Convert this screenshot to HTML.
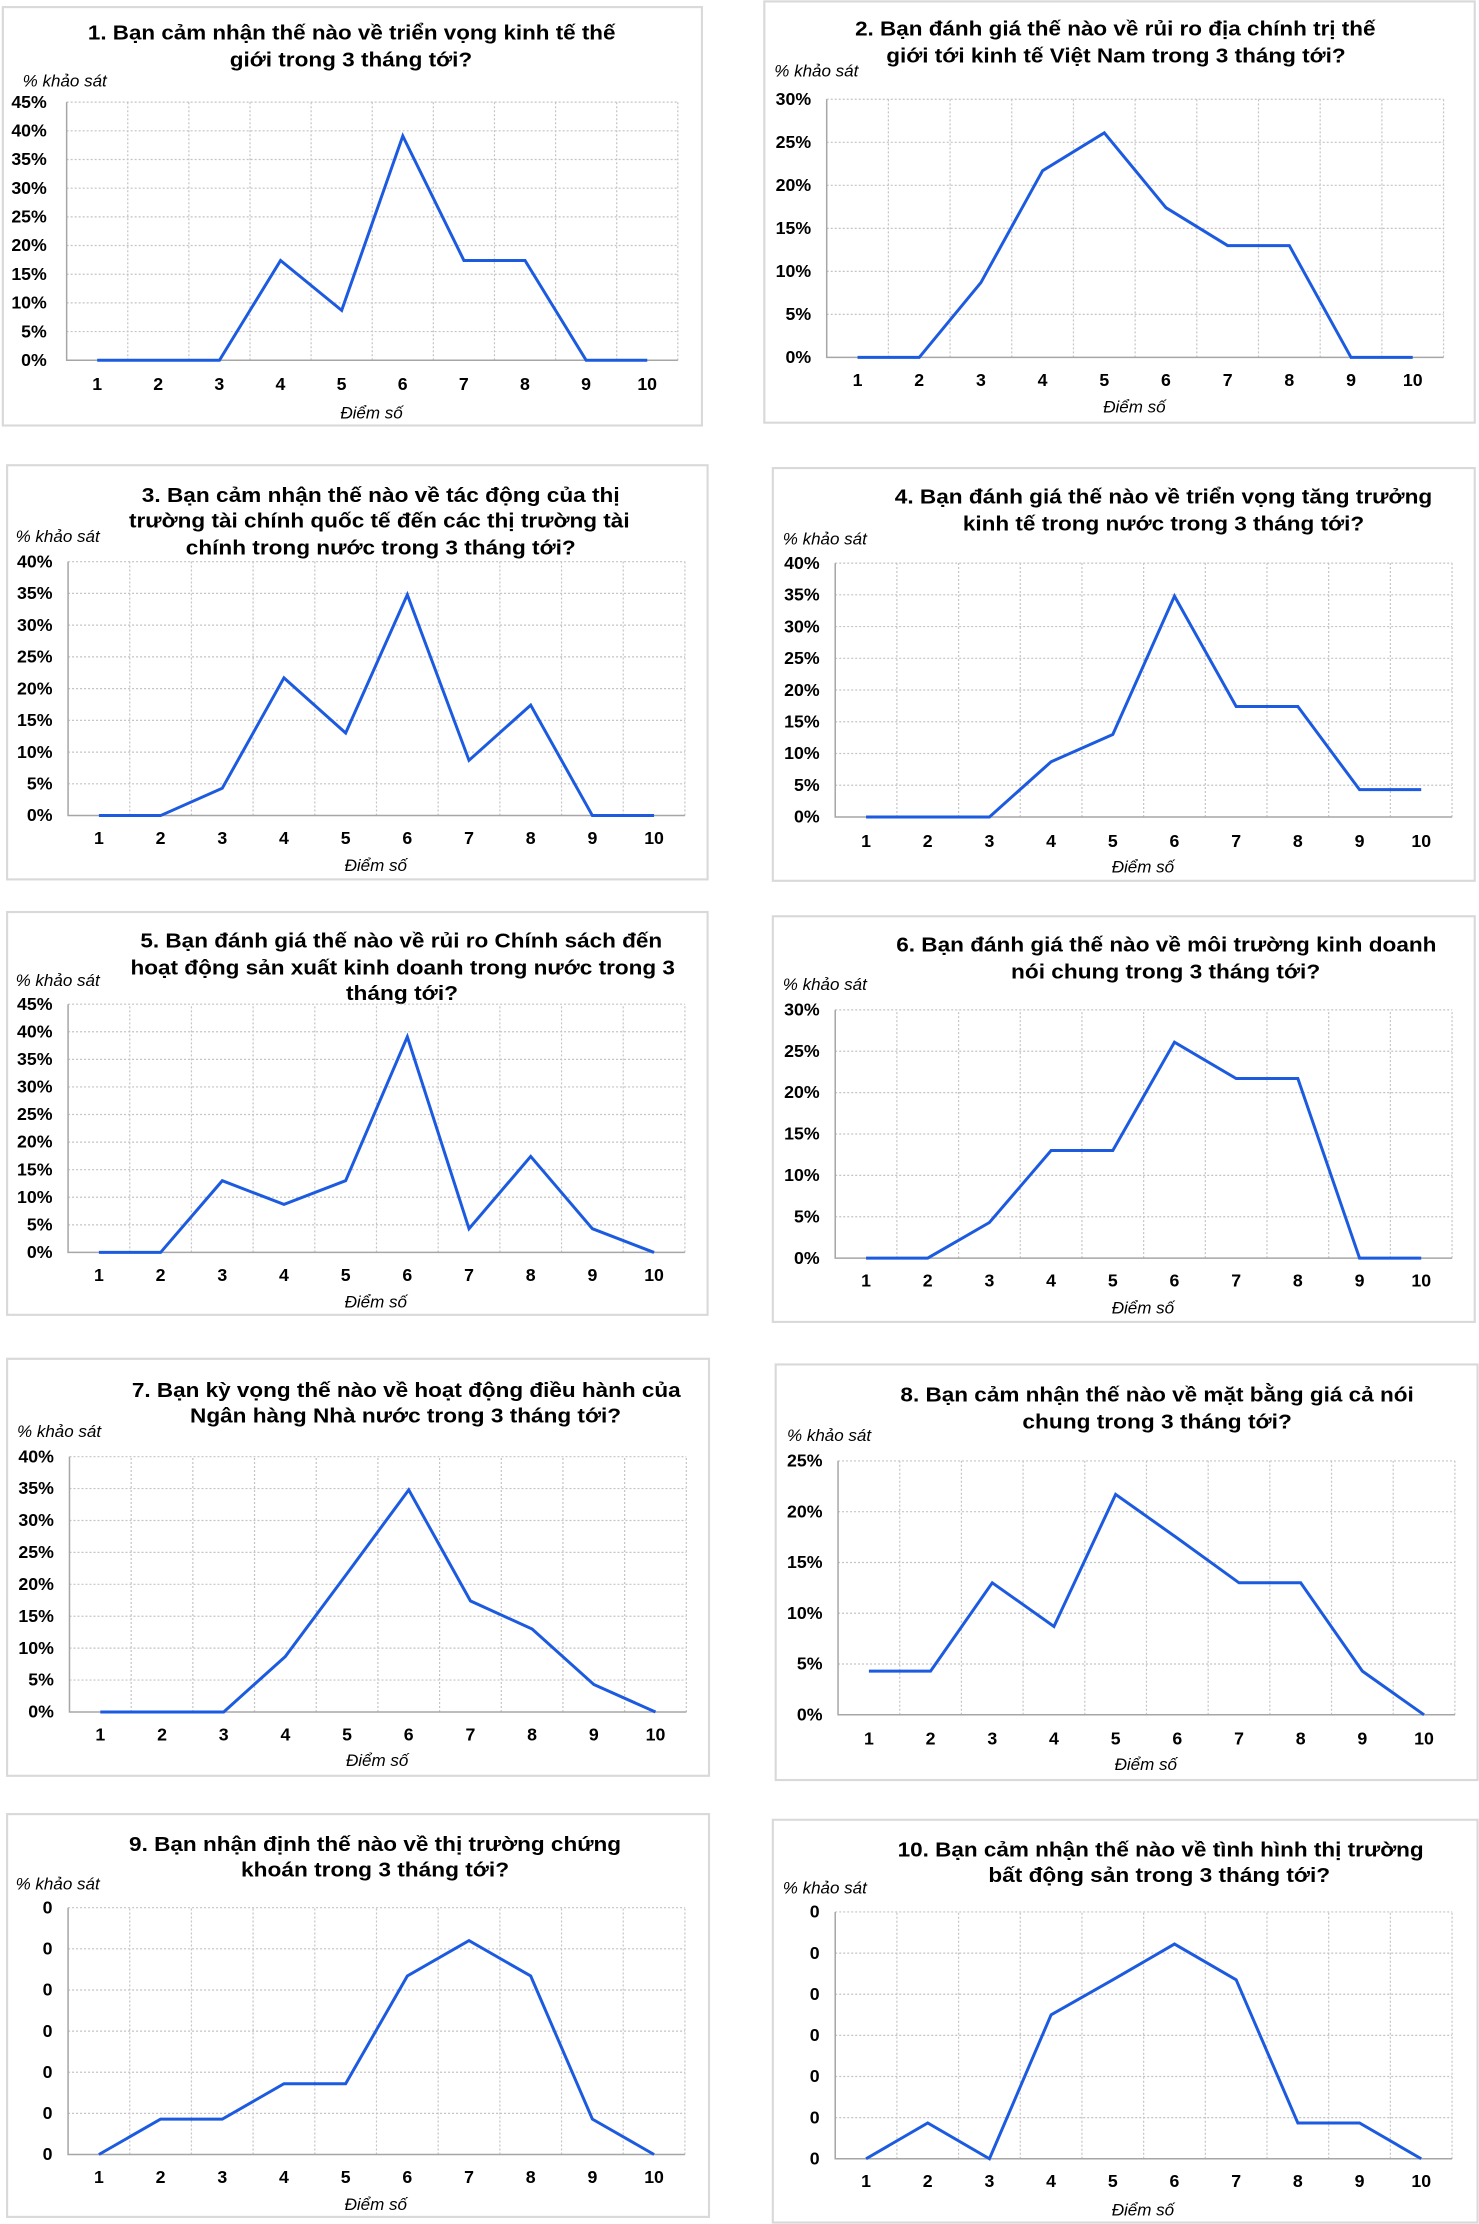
<!DOCTYPE html>
<html><head><meta charset="utf-8"><style>
html,body{margin:0;padding:0;background:#fff}
svg{display:block}
text{font-family:"Liberation Sans Narrow","Liberation Sans","DejaVu Sans Condensed",sans-serif;fill:#000}
.t{font-size:14.5px;font-weight:bold}
.k{font-size:12.5px;font-weight:bold}
.a{font-size:12px;font-style:italic}
.fr{fill:#fff;stroke:#d9d9d9;stroke-width:1.5}
.g{fill:none;stroke:#c4c4c4;stroke-width:1.2;stroke-dasharray:2 2}
.ax{fill:none;stroke:#a6a6a6;stroke-width:1.5}
.s{fill:none;stroke:#1c5be0;stroke-width:3;stroke-linejoin:miter}
</style></head><body>
<svg width="1479" height="2224" viewBox="0 0 1043 1568" preserveAspectRatio="none">

<!-- Chart 1 -->
<rect class="fr" x="2" y="5" width="493" height="295"/>
<text class="t" x="62" y="28" textLength="372" lengthAdjust="spacingAndGlyphs">1. Bạn cảm nhận thế nào về triển vọng kinh tế thế</text>
<text class="t" x="162" y="47" textLength="171" lengthAdjust="spacingAndGlyphs">giới trong 3 tháng tới?</text>
<text class="a" x="16" y="61">% khảo sát</text>
<g transform="translate(47,254) scale(43.1,-4.0444)">
<path class="g" vector-effect="non-scaling-stroke" d="M0 5H10M0 10H10M0 15H10M0 20H10M0 25H10M0 30H10M0 35H10M0 40H10M0 45H10M1 0V45M2 0V45M3 0V45M4 0V45M5 0V45M6 0V45M7 0V45M8 0V45M9 0V45M10 0V45"/>
<path class="ax" vector-effect="non-scaling-stroke" d="M0 45V0H10"/>
<polyline class="s" vector-effect="non-scaling-stroke" points="0.5,0 1.5,0 2.5,0 3.5,17.4 4.5,8.7 5.5,39.1 6.5,17.4 7.5,17.4 8.5,0 9.5,0"/>
</g>
<text class="k" text-anchor="end"><tspan x="33" y="258">0%</tspan><tspan x="33" y="237.8">5%</tspan><tspan x="33" y="217.6">10%</tspan><tspan x="33" y="197.3">15%</tspan><tspan x="33" y="177.1">20%</tspan><tspan x="33" y="156.9">25%</tspan><tspan x="33" y="136.7">30%</tspan><tspan x="33" y="116.4">35%</tspan><tspan x="33" y="96.2">40%</tspan><tspan x="33" y="76">45%</tspan></text>
<g transform="translate(47,0)"><text class="k" text-anchor="middle"><tspan x="21.5" y="275">1</tspan><tspan x="64.6" y="275">2</tspan><tspan x="107.7" y="275">3</tspan><tspan x="150.8" y="275">4</tspan><tspan x="193.9" y="275">5</tspan><tspan x="237" y="275">6</tspan><tspan x="280.1" y="275">7</tspan><tspan x="323.2" y="275">8</tspan><tspan x="366.3" y="275">9</tspan><tspan x="409.4" y="275">10</tspan></text></g>
<text class="a" x="262" y="295" text-anchor="middle">Điểm số</text>

<!-- Chart 2 -->
<rect class="fr" x="539" y="1" width="501" height="297"/>
<text class="t" x="603" y="25" textLength="367" lengthAdjust="spacingAndGlyphs">2. Bạn đánh giá thế nào về rủi ro địa chính trị thế</text>
<text class="t" x="625" y="44" textLength="324" lengthAdjust="spacingAndGlyphs">giới tới kinh tế Việt Nam trong 3 tháng tới?</text>
<text class="a" x="546" y="54">% khảo sát</text>
<g transform="translate(583,252) scale(43.5,-6.0667)">
<path class="g" vector-effect="non-scaling-stroke" d="M0 5H10M0 10H10M0 15H10M0 20H10M0 25H10M0 30H10M1 0V30M2 0V30M3 0V30M4 0V30M5 0V30M6 0V30M7 0V30M8 0V30M9 0V30M10 0V30"/>
<path class="ax" vector-effect="non-scaling-stroke" d="M0 30V0H10"/>
<polyline class="s" vector-effect="non-scaling-stroke" points="0.5,0 1.5,0 2.5,8.7 3.5,21.7 4.5,26.1 5.5,17.4 6.5,13 7.5,13 8.5,0 9.5,0"/>
</g>
<text class="k" text-anchor="end"><tspan x="572" y="256">0%</tspan><tspan x="572" y="225.7">5%</tspan><tspan x="572" y="195.3">10%</tspan><tspan x="572" y="165">15%</tspan><tspan x="572" y="134.7">20%</tspan><tspan x="572" y="104.3">25%</tspan><tspan x="572" y="74">30%</tspan></text>
<g transform="translate(583,0)"><text class="k" text-anchor="middle"><tspan x="21.75" y="272">1</tspan><tspan x="65.25" y="272">2</tspan><tspan x="108.75" y="272">3</tspan><tspan x="152.25" y="272">4</tspan><tspan x="195.75" y="272">5</tspan><tspan x="239.25" y="272">6</tspan><tspan x="282.75" y="272">7</tspan><tspan x="326.25" y="272">8</tspan><tspan x="369.75" y="272">9</tspan><tspan x="413.25" y="272">10</tspan></text></g>
<text class="a" x="800" y="291" text-anchor="middle">Điểm số</text>

<!-- Chart 3 -->
<rect class="fr" x="5" y="328" width="494" height="292"/>
<text class="t" x="100" y="354" textLength="337" lengthAdjust="spacingAndGlyphs">3. Bạn cảm nhận thế nào về tác động của thị</text>
<text class="t" x="91" y="372" textLength="353" lengthAdjust="spacingAndGlyphs">trường tài chính quốc tế đến các thị trường tài</text>
<text class="t" x="131" y="391" textLength="275" lengthAdjust="spacingAndGlyphs">chính trong nước trong 3 tháng tới?</text>
<text class="a" x="11" y="382">% khảo sát</text>
<g transform="translate(48,575) scale(43.5,-4.475)">
<path class="g" vector-effect="non-scaling-stroke" d="M0 5H10M0 10H10M0 15H10M0 20H10M0 25H10M0 30H10M0 35H10M0 40H10M1 0V40M2 0V40M3 0V40M4 0V40M5 0V40M6 0V40M7 0V40M8 0V40M9 0V40M10 0V40"/>
<path class="ax" vector-effect="non-scaling-stroke" d="M0 40V0H10"/>
<polyline class="s" vector-effect="non-scaling-stroke" points="0.5,0 1.5,0 2.5,4.3 3.5,21.7 4.5,13 5.5,34.8 6.5,8.7 7.5,17.4 8.5,0 9.5,0"/>
</g>
<text class="k" text-anchor="end"><tspan x="37" y="579">0%</tspan><tspan x="37" y="556.6">5%</tspan><tspan x="37" y="534.3">10%</tspan><tspan x="37" y="511.9">15%</tspan><tspan x="37" y="489.6">20%</tspan><tspan x="37" y="467.1">25%</tspan><tspan x="37" y="444.9">30%</tspan><tspan x="37" y="422.4">35%</tspan><tspan x="37" y="400">40%</tspan></text>
<g transform="translate(48,0)"><text class="k" text-anchor="middle"><tspan x="21.75" y="595">1</tspan><tspan x="65.25" y="595">2</tspan><tspan x="108.75" y="595">3</tspan><tspan x="152.25" y="595">4</tspan><tspan x="195.75" y="595">5</tspan><tspan x="239.25" y="595">6</tspan><tspan x="282.75" y="595">7</tspan><tspan x="326.25" y="595">8</tspan><tspan x="369.75" y="595">9</tspan><tspan x="413.25" y="595">10</tspan></text></g>
<text class="a" x="265" y="614" text-anchor="middle">Điểm số</text>

<!-- Chart 4 -->
<rect class="fr" x="545" y="330" width="495" height="291"/>
<text class="t" x="631" y="355" textLength="379" lengthAdjust="spacingAndGlyphs">4. Bạn đánh giá thế nào về triển vọng tăng trưởng</text>
<text class="t" x="679" y="374" textLength="283" lengthAdjust="spacingAndGlyphs">kinh tế trong nước trong 3 tháng tới?</text>
<text class="a" x="552" y="384">% khảo sát</text>
<g transform="translate(589,576) scale(43.5,-4.475)">
<path class="g" vector-effect="non-scaling-stroke" d="M0 5H10M0 10H10M0 15H10M0 20H10M0 25H10M0 30H10M0 35H10M0 40H10M1 0V40M2 0V40M3 0V40M4 0V40M5 0V40M6 0V40M7 0V40M8 0V40M9 0V40M10 0V40"/>
<path class="ax" vector-effect="non-scaling-stroke" d="M0 40V0H10"/>
<polyline class="s" vector-effect="non-scaling-stroke" points="0.5,0 1.5,0 2.5,0 3.5,8.7 4.5,13 5.5,34.8 6.5,17.4 7.5,17.4 8.5,4.3 9.5,4.3"/>
</g>
<text class="k" text-anchor="end"><tspan x="578" y="580">0%</tspan><tspan x="578" y="557.6">5%</tspan><tspan x="578" y="535.3">10%</tspan><tspan x="578" y="512.9">15%</tspan><tspan x="578" y="490.6">20%</tspan><tspan x="578" y="468.1">25%</tspan><tspan x="578" y="445.9">30%</tspan><tspan x="578" y="423.4">35%</tspan><tspan x="578" y="401">40%</tspan></text>
<g transform="translate(589,0)"><text class="k" text-anchor="middle"><tspan x="21.75" y="597">1</tspan><tspan x="65.25" y="597">2</tspan><tspan x="108.75" y="597">3</tspan><tspan x="152.25" y="597">4</tspan><tspan x="195.75" y="597">5</tspan><tspan x="239.25" y="597">6</tspan><tspan x="282.75" y="597">7</tspan><tspan x="326.25" y="597">8</tspan><tspan x="369.75" y="597">9</tspan><tspan x="413.25" y="597">10</tspan></text></g>
<text class="a" x="806" y="615" text-anchor="middle">Điểm số</text>

<!-- Chart 5 -->
<rect class="fr" x="5" y="643" width="494" height="284"/>
<text class="t" x="99" y="668" textLength="368" lengthAdjust="spacingAndGlyphs">5. Bạn đánh giá thế nào về rủi ro Chính sách đến</text>
<text class="t" x="92" y="687" textLength="384" lengthAdjust="spacingAndGlyphs">hoạt động sản xuất kinh doanh trong nước trong 3</text>
<text class="t" x="244" y="705" textLength="79" lengthAdjust="spacingAndGlyphs">tháng tới?</text>
<text class="a" x="11" y="695">% khảo sát</text>
<g transform="translate(48,883) scale(43.5,-3.8889)">
<path class="g" vector-effect="non-scaling-stroke" d="M0 5H10M0 10H10M0 15H10M0 20H10M0 25H10M0 30H10M0 35H10M0 40H10M0 45H10M1 0V45M2 0V45M3 0V45M4 0V45M5 0V45M6 0V45M7 0V45M8 0V45M9 0V45M10 0V45"/>
<path class="ax" vector-effect="non-scaling-stroke" d="M0 45V0H10"/>
<polyline class="s" vector-effect="non-scaling-stroke" points="0.5,0 1.5,0 2.5,13 3.5,8.7 4.5,13 5.5,39.1 6.5,4.3 7.5,17.4 8.5,4.3 9.5,0"/>
</g>
<text class="k" text-anchor="end"><tspan x="37" y="887">0%</tspan><tspan x="37" y="867.6">5%</tspan><tspan x="37" y="848.1">10%</tspan><tspan x="37" y="828.7">15%</tspan><tspan x="37" y="809.2">20%</tspan><tspan x="37" y="789.8">25%</tspan><tspan x="37" y="770.3">30%</tspan><tspan x="37" y="750.9">35%</tspan><tspan x="37" y="731.4">40%</tspan><tspan x="37" y="712">45%</tspan></text>
<g transform="translate(48,0)"><text class="k" text-anchor="middle"><tspan x="21.75" y="903">1</tspan><tspan x="65.25" y="903">2</tspan><tspan x="108.75" y="903">3</tspan><tspan x="152.25" y="903">4</tspan><tspan x="195.75" y="903">5</tspan><tspan x="239.25" y="903">6</tspan><tspan x="282.75" y="903">7</tspan><tspan x="326.25" y="903">8</tspan><tspan x="369.75" y="903">9</tspan><tspan x="413.25" y="903">10</tspan></text></g>
<text class="a" x="265" y="922" text-anchor="middle">Điểm số</text>

<!-- Chart 6 -->
<rect class="fr" x="545" y="646" width="495" height="286"/>
<text class="t" x="632" y="671" textLength="381" lengthAdjust="spacingAndGlyphs">6. Bạn đánh giá thế nào về môi trường kinh doanh</text>
<text class="t" x="713" y="690" textLength="218" lengthAdjust="spacingAndGlyphs">nói chung trong 3 tháng tới?</text>
<text class="a" x="552" y="698">% khảo sát</text>
<g transform="translate(589,887) scale(43.5,-5.8333)">
<path class="g" vector-effect="non-scaling-stroke" d="M0 5H10M0 10H10M0 15H10M0 20H10M0 25H10M0 30H10M1 0V30M2 0V30M3 0V30M4 0V30M5 0V30M6 0V30M7 0V30M8 0V30M9 0V30M10 0V30"/>
<path class="ax" vector-effect="non-scaling-stroke" d="M0 30V0H10"/>
<polyline class="s" vector-effect="non-scaling-stroke" points="0.5,0 1.5,0 2.5,4.3 3.5,13 4.5,13 5.5,26.1 6.5,21.7 7.5,21.7 8.5,0 9.5,0"/>
</g>
<text class="k" text-anchor="end"><tspan x="578" y="891">0%</tspan><tspan x="578" y="861.8">5%</tspan><tspan x="578" y="832.7">10%</tspan><tspan x="578" y="803.5">15%</tspan><tspan x="578" y="774.3">20%</tspan><tspan x="578" y="745.2">25%</tspan><tspan x="578" y="716">30%</tspan></text>
<g transform="translate(589,0)"><text class="k" text-anchor="middle"><tspan x="21.75" y="907">1</tspan><tspan x="65.25" y="907">2</tspan><tspan x="108.75" y="907">3</tspan><tspan x="152.25" y="907">4</tspan><tspan x="195.75" y="907">5</tspan><tspan x="239.25" y="907">6</tspan><tspan x="282.75" y="907">7</tspan><tspan x="326.25" y="907">8</tspan><tspan x="369.75" y="907">9</tspan><tspan x="413.25" y="907">10</tspan></text></g>
<text class="a" x="806" y="926" text-anchor="middle">Điểm số</text>

<!-- Chart 7 -->
<rect class="fr" x="5" y="958" width="495" height="294"/>
<text class="t" x="93" y="985" textLength="387" lengthAdjust="spacingAndGlyphs">7. Bạn kỳ vọng thế nào về hoạt động điều hành của</text>
<text class="t" x="134" y="1003" textLength="304" lengthAdjust="spacingAndGlyphs">Ngân hàng Nhà nước trong 3 tháng tới?</text>
<text class="a" x="12" y="1013">% khảo sát</text>
<g transform="translate(49,1207) scale(43.5,-4.5)">
<path class="g" vector-effect="non-scaling-stroke" d="M0 5H10M0 10H10M0 15H10M0 20H10M0 25H10M0 30H10M0 35H10M0 40H10M1 0V40M2 0V40M3 0V40M4 0V40M5 0V40M6 0V40M7 0V40M8 0V40M9 0V40M10 0V40"/>
<path class="ax" vector-effect="non-scaling-stroke" d="M0 40V0H10"/>
<polyline class="s" vector-effect="non-scaling-stroke" points="0.5,0 1.5,0 2.5,0 3.5,8.7 4.5,21.7 5.5,34.8 6.5,17.4 7.5,13 8.5,4.3 9.5,0"/>
</g>
<text class="k" text-anchor="end"><tspan x="38" y="1211">0%</tspan><tspan x="38" y="1188.5">5%</tspan><tspan x="38" y="1166">10%</tspan><tspan x="38" y="1143.5">15%</tspan><tspan x="38" y="1121">20%</tspan><tspan x="38" y="1098.5">25%</tspan><tspan x="38" y="1076">30%</tspan><tspan x="38" y="1053.5">35%</tspan><tspan x="38" y="1031">40%</tspan></text>
<g transform="translate(49,0)"><text class="k" text-anchor="middle"><tspan x="21.75" y="1227">1</tspan><tspan x="65.25" y="1227">2</tspan><tspan x="108.75" y="1227">3</tspan><tspan x="152.25" y="1227">4</tspan><tspan x="195.75" y="1227">5</tspan><tspan x="239.25" y="1227">6</tspan><tspan x="282.75" y="1227">7</tspan><tspan x="326.25" y="1227">8</tspan><tspan x="369.75" y="1227">9</tspan><tspan x="413.25" y="1227">10</tspan></text></g>
<text class="a" x="266" y="1245" text-anchor="middle">Điểm số</text>

<!-- Chart 8 -->
<rect class="fr" x="547" y="962" width="495" height="293"/>
<text class="t" x="635" y="988" textLength="362" lengthAdjust="spacingAndGlyphs">8. Bạn cảm nhận thế nào về mặt bằng giá cả nói</text>
<text class="t" x="721" y="1007" textLength="190" lengthAdjust="spacingAndGlyphs">chung trong 3 tháng tới?</text>
<text class="a" x="555" y="1016">% khảo sát</text>
<g transform="translate(591,1209) scale(43.5,-7.16)">
<path class="g" vector-effect="non-scaling-stroke" d="M0 5H10M0 10H10M0 15H10M0 20H10M0 25H10M1 0V25M2 0V25M3 0V25M4 0V25M5 0V25M6 0V25M7 0V25M8 0V25M9 0V25M10 0V25"/>
<path class="ax" vector-effect="non-scaling-stroke" d="M0 25V0H10"/>
<polyline class="s" vector-effect="non-scaling-stroke" points="0.5,4.3 1.5,4.3 2.5,13 3.5,8.7 4.5,21.7 5.5,17.4 6.5,13 7.5,13 8.5,4.3 9.5,0"/>
</g>
<text class="k" text-anchor="end"><tspan x="580" y="1213">0%</tspan><tspan x="580" y="1177.2">5%</tspan><tspan x="580" y="1141.4">10%</tspan><tspan x="580" y="1105.6">15%</tspan><tspan x="580" y="1069.8">20%</tspan><tspan x="580" y="1034">25%</tspan></text>
<g transform="translate(591,0)"><text class="k" text-anchor="middle"><tspan x="21.75" y="1230">1</tspan><tspan x="65.25" y="1230">2</tspan><tspan x="108.75" y="1230">3</tspan><tspan x="152.25" y="1230">4</tspan><tspan x="195.75" y="1230">5</tspan><tspan x="239.25" y="1230">6</tspan><tspan x="282.75" y="1230">7</tspan><tspan x="326.25" y="1230">8</tspan><tspan x="369.75" y="1230">9</tspan><tspan x="413.25" y="1230">10</tspan></text></g>
<text class="a" x="808" y="1248" text-anchor="middle">Điểm số</text>

<!-- Chart 9 -->
<rect class="fr" x="5" y="1279" width="495" height="284"/>
<text class="t" x="91" y="1305" textLength="347" lengthAdjust="spacingAndGlyphs">9. Bạn nhận định thế nào về thị trường chứng</text>
<text class="t" x="170" y="1323" textLength="189" lengthAdjust="spacingAndGlyphs">khoán trong 3 tháng tới?</text>
<text class="a" x="11" y="1332">% khảo sát</text>
<g transform="translate(48,1519) scale(43.5,-29)">
<path class="g" vector-effect="non-scaling-stroke" d="M0 1H10M0 2H10M0 3H10M0 4H10M0 5H10M0 6H10M1 0V6M2 0V6M3 0V6M4 0V6M5 0V6M6 0V6M7 0V6M8 0V6M9 0V6M10 0V6"/>
<path class="ax" vector-effect="non-scaling-stroke" d="M0 6V0H10"/>
<polyline class="s" vector-effect="non-scaling-stroke" points="0.5,0 1.5,0.86 2.5,0.86 3.5,1.72 4.5,1.72 5.5,4.34 6.5,5.2 7.5,4.34 8.5,0.86 9.5,0"/>
</g>
<text class="k" text-anchor="end"><tspan x="37" y="1523">0</tspan><tspan x="37" y="1494">0</tspan><tspan x="37" y="1465">0</tspan><tspan x="37" y="1436">0</tspan><tspan x="37" y="1407">0</tspan><tspan x="37" y="1378">0</tspan><tspan x="37" y="1349">0</tspan></text>
<g transform="translate(48,0)"><text class="k" text-anchor="middle"><tspan x="21.75" y="1539">1</tspan><tspan x="65.25" y="1539">2</tspan><tspan x="108.75" y="1539">3</tspan><tspan x="152.25" y="1539">4</tspan><tspan x="195.75" y="1539">5</tspan><tspan x="239.25" y="1539">6</tspan><tspan x="282.75" y="1539">7</tspan><tspan x="326.25" y="1539">8</tspan><tspan x="369.75" y="1539">9</tspan><tspan x="413.25" y="1539">10</tspan></text></g>
<text class="a" x="265" y="1558" text-anchor="middle">Điểm số</text>

<!-- Chart 10 -->
<rect class="fr" x="545" y="1283" width="497" height="284"/>
<text class="t" x="633" y="1309" textLength="371" lengthAdjust="spacingAndGlyphs">10. Bạn cảm nhận thế nào về tình hình thị trường</text>
<text class="t" x="697" y="1327" textLength="241" lengthAdjust="spacingAndGlyphs">bất động sản trong 3 tháng tới?</text>
<text class="a" x="552" y="1335">% khảo sát</text>
<g transform="translate(589,1522) scale(43.5,-29)">
<path class="g" vector-effect="non-scaling-stroke" d="M0 1H10M0 2H10M0 3H10M0 4H10M0 5H10M0 6H10M1 0V6M2 0V6M3 0V6M4 0V6M5 0V6M6 0V6M7 0V6M8 0V6M9 0V6M10 0V6"/>
<path class="ax" vector-effect="non-scaling-stroke" d="M0 6V0H10"/>
<polyline class="s" vector-effect="non-scaling-stroke" points="0.5,0 1.5,0.87 2.5,0 3.5,3.5 4.5,4.35 5.5,5.22 6.5,4.35 7.5,0.87 8.5,0.87 9.5,0"/>
</g>
<text class="k" text-anchor="end"><tspan x="578" y="1526">0</tspan><tspan x="578" y="1497">0</tspan><tspan x="578" y="1468">0</tspan><tspan x="578" y="1439">0</tspan><tspan x="578" y="1410">0</tspan><tspan x="578" y="1381">0</tspan><tspan x="578" y="1352">0</tspan></text>
<g transform="translate(589,0)"><text class="k" text-anchor="middle"><tspan x="21.75" y="1542">1</tspan><tspan x="65.25" y="1542">2</tspan><tspan x="108.75" y="1542">3</tspan><tspan x="152.25" y="1542">4</tspan><tspan x="195.75" y="1542">5</tspan><tspan x="239.25" y="1542">6</tspan><tspan x="282.75" y="1542">7</tspan><tspan x="326.25" y="1542">8</tspan><tspan x="369.75" y="1542">9</tspan><tspan x="413.25" y="1542">10</tspan></text></g>
<text class="a" x="806" y="1562" text-anchor="middle">Điểm số</text>

</svg>
</body></html>
